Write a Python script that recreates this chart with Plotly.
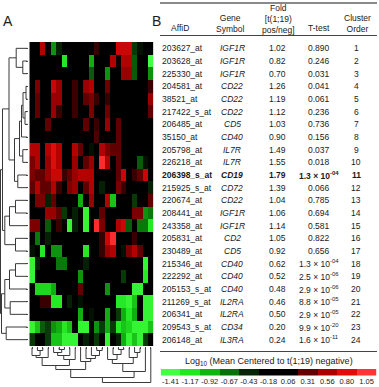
"""
    Heatmap with dendrograms (A) and the matching probe table (B).
"""
import plotly.graph_objects as go

W, H = 379, 387
FONT = "Liberation Sans, Arial, sans-serif"
INK = "#1a1a1a"

# ---- data -------------------------------------------------------------
affy_ids = ["203627_at", "203628_at", "225330_at", "204581_at", "38521_at",
            "217422_s_at", "206485_at", "35150_at", "205798_at", "226218_at",
            "206398_s_at", "215925_s_at", "220674_at", "208441_at", "243358_at",
            "205831_at", "230489_at", "215346_at", "222292_at", "205153_s_at",
            "211269_s_at", "206341_at", "209543_s_at", "206148_at"]
genes = ["IGF1R", "IGF1R", "IGF1R", "CD22", "CD22", "CD22", "CD5", "CD40",
         "IL7R", "IL7R", "CD19", "CD72", "CD22", "IGF1R", "IGF1R", "CD2",
         "CD5", "CD40", "CD40", "CD40", "IL2RA", "IL2RA", "CD34", "IL3RA"]
fold = [1.02, 0.82, 0.70, 1.26, 1.19, 1.12, 1.03, 0.90, 1.49, 1.55, 1.79, 1.39,
        1.04, 1.06, 1.14, 1.05, 0.92, 0.62, 0.52, 0.48, 0.46, 0.50, 0.20, 0.24]
ttest = ["0.890", "0.246", "0.031", "0.041", "0.061", "0.236", "0.736", "0.156",
         "0.037", "0.018", "1.3e-04", "0.066", "0.785", "0.694", "0.581", "0.822",
         "0.656", "1.3e-04", "2.5e-06", "2.9e-06", "8.8e-05", "2.9e-05",
         "9.9e-20", "1.6e-11"]
cluster_order = list(range(1, 25))
highlight_row = 10  # CD19

expr = [
    [0, 0, 0.6, 0, -0.8, -0.4, 0, 0, 0, 0, 0, 0, 0.2, 0, 0, 0, 0.7, 0.7, 0.7, -0.5, -0.3, 0, 0],
    [0, 0, 0, 0, 0, 0, -1.2, 0, 0, 0, 0, -0.9, 0, 0, 0, 0.6, 0.1, 0.6, 0.6, -0.6, 0, 0, -1.4],
    [0, 0, 0, 0, 0, 0, 0, 0, 0, 0, 0, -0.6, 0, 0, -0.8, 0, 0, 0.5, 0.5, -0.6, 0, 0, -0.8],
    [0, 0.4, 0, 0, 0.7, 0.5, 0, 0, 0.2, 0, 0.5, 0.6, 0, 0, 0.35, 0, 0, 0, 0, 0, 0, 0, 0.2],
    [0, 0.3, 0, 0, 0.5, 0.5, 0, 0, 0.2, 0, 0.3, 0.4, 0.2, 0, 0.2, 0, 0, 0, 0, 0, 0, 0, 0.5],
    [0, 0.3, 0, 0, 0.5, 0.2, 0, 0, 0.2, 0, 0, 0.4, 0, 0, 0.35, 0, 0, 0, 0, 0, 0, 0, 0.3],
    [0, 0, 0, 0.3, 0, 0, 0, 0, 0, 0, 0.3, 0, 0.2, 0, 0.5, 0, 0.3, 0, 0, 0, 0, 0, 0],
    [0, 0, 0, 0, 0, 0, 0, 0, 0, 0, 0, 0, 0.25, 0, 0, 0, 0.3, 0, 0, 0, 0, 0, 0],
    [0.6, 0.6, 0, 0.6, 0.8, 0.6, 0, 0, 0.6, 0.3, 0, -0.3, 0, 0.6, 0.4, 0.3, 0.3, 0, 0, 0, 0, 0, 0],
    [0.4, 0.6, 0, 0.5, 0.8, 0.6, 0, 0, 0.5, 0, 0.3, 0.5, 0, 1.0, 0.6, 0, 0.3, 0, 0, 0, -0.6, -0.3, 0],
    [0.4, 0.3, 0.3, 0.5, 0.7, 0.7, 0.2, 0.3, 0.5, 0.6, 0.6, 0.6, 0, 0, 0, 0, 0.3, 0.7, 0, 0.2, 0.3, 0.7, 0],
    [0.3, 0.6, 0.3, 0.3, 0.6, 0.2, 0, 0.4, 0.5, 0, 0.3, 0.6, 0, -0.4, -0.2, 0, 0.4, 0.2, 0, 0, 0, 0, -0.4],
    [0, 0.4, 0.4, -0.4, 0.3, 0, 0, 0, 0, -0.9, 0, 0.5, 0, 0, 0.6, -1.0, 0, 0, 0, -0.5, 0, 0, 0.3],
    [0, 0, 0, 0.5, 0.5, 0.3, -0.5, 0, -0.4, 0, -1.3, 0, 0, 0.3, 0, 0, 0, 0, 0, 0.4, 0.4, -0.8, -0.7],
    [0.4, 0.4, 0, -0.6, 0, 0.2, 0, -1.3, -0.4, 0, -1.3, 0, 1.0, 0.4, 0, 0, 0.6, 0.7, -0.6, 0, -0.7, -0.7, -1.2],
    [0, -0.7, 0, -0.4, 0, 0, 0, 0, 0, 0, 0, 0, 0, 0.2, 0.7, 1.0, 0, 0, 0, 0.2, 0, 0, 0],
    [-0.3, 0, -1.2, 0, -0.8, -0.8, 0, 0, 0, 0, -1.2, 0, 0, 0.2, 0.5, 0.6, 0, -0.3, 0.4, 0.6, 0.3, 0, 0],
    [-1.3, -0.4, 0, 0, 0, -0.7, -0.7, 0, 0, 0, -0.4, 0, 0, 0, 0, 0, 0, 0, 0, 0, 0, -1.3, 0],
    [-1.3, 0, 0, 0, 0, 0, 0, 0, 0, -0.8, 0, 0, 0, 0, 0, 0, 0, -0.5, 0, 0, 0, -1.2, 0],
    [0, -1.1, -1.1, -1.1, -0.9, 0, 0, 0, -0.2, 0.3, 0, 0, 0, 0, -0.8, 0, 0, 0, 0, -1.3, -1.3, 0, 0],
    [0, 0, 0.2, 0.2, -1.2, -1.2, 0, -0.4, 0, -0.3, 0, 0, 0, 0, 0, 0, -1.2, -1.2, -1.3, -1.0, 0, -1.3, -1.3],
    [0, 0, 0, 0, 0, 0, 0, 0, 0, -0.9, 0, -0.3, 0, 0, -0.9, 0, -0.5, -0.9, -1.2, -0.9, 0, -1.3, -1.3],
    [-1.3, -1.0, -0.6, -0.5, -0.8, -0.9, -1.2, -1.0, -0.2, -1.3, -1.3, 0, -0.8, -0.5, -0.9, -0.5, -1.2, -1.0, -1.1, -1.3, -1.3, -1.3, -1.0],
    [-0.5, 0, 0, -0.5, -1.0, -1.0, -1.3, -1.3, -1.3, 0, -0.4, -0.2, -0.5, 0, -1.3, 0, -0.4, -0.9, -1.3, -1.0, -1.3, -0.5, 0],
]

# colour key levels (Log10 mean centred)
key_levels = [-1.41, -1.17, -0.92, -0.67, -0.43, -0.18, 0.06, 0.31, 0.56, 0.80, 1.05]

# dendrograms: (child a, child b, height); leaves first, new nodes numbered after
row_merges = [
    (1, 2, 4.7), (0, 24, 11.3), (3, 4, 1.5), (5, 6, 2.5), (26, 27, 4.5),
    (28, 7, 6), (8, 9, 4.7), (29, 30, 8), (10, 11, 9.7), (31, 32, 13),
    (25, 33, 18.5), (12, 13, 12), (35, 14, 18), (15, 16, 12), (36, 37, 22.7),
    (34, 38, 25), (17, 18, 12), (40, 19, 18), (20, 21, 17.3), (41, 42, 22.7),
    (22, 23, 21.3), (43, 44, 26), (39, 45, 27),
]
col_merges = [
    (1, 2, 3), (0, 23, 8), (24, 3, 10), (5, 6, 2), (4, 26, 5), (27, 7, 8),
    (28, 8, 12), (25, 29, 18), (12, 13, 3), (31, 11, 8), (10, 32, 11),
    (9, 33, 14), (30, 34, 22), (16, 17, 2), (36, 15, 7), (14, 37, 12),
    (19, 20, 5), (18, 39, 10), (38, 40, 16), (41, 21, 24), (35, 42, 30),
    (43, 22, 35),
]

colorscale = [
    [0.000, "#44ff44"], [0.098, "#22e622"], [0.199, "#12b412"],
    [0.301, "#0a700a"], [0.398, "#062406"], [0.500, "#000000"],
    [0.598, "#000000"], [0.699, "#640000"], [0.801, "#aa0000"],
    [0.898, "#e00c0c"], [1.000, "#ff3535"],
]


def px(x):
    return x / W


def py(y):
    return 1 - y / H


def dendro(merges, n):
    pos = list(range(n))
    hgt = [0] * n
    p, h = [], []
    for a, b, m in merges:
        for c in (a, b):
            p += [pos[c], pos[c], None]
            h += [hgt[c], m, None]
        p += [pos[a], pos[b], None]
        h += [m, m, None]
        pos.append((pos[a] + pos[b]) / 2)
        hgt.append(m)
    return p, h


def fmt_p(s):
    if "e" in s:
        m, e = s.split("e")
        return m + " × 10<sup>" + e + "</sup>"
    return s


def label(fig, text, x, y, size=8.5, xanchor="center", yref="paper"):
    fig.add_annotation(text=text, x=px(x), y=y, xref="paper", yref=yref,
                       xanchor=xanchor, yanchor="middle", align="center",
                       showarrow=False, font=dict(size=size, color=INK))


fig = go.Figure()

fig.add_trace(go.Heatmap(
    z=expr, zmin=-1.41, zmax=1.05, colorscale=colorscale,
    showscale=False, xaxis="x", yaxis="y", hoverinfo="skip",
))

rp, rh = dendro(row_merges, len(affy_ids))
fig.add_trace(go.Scatter(x=rh, y=rp, mode="lines", xaxis="x2", yaxis="y2",
                         line=dict(color="#3a3a3a", width=1), hoverinfo="skip"))

cp, ch = dendro(col_merges, len(expr[0]))
fig.add_trace(go.Scatter(x=cp, y=ch, mode="lines", xaxis="x3", yaxis="y3",
                         line=dict(color="#3a3a3a", width=1), hoverinfo="skip"))

fig.add_trace(go.Heatmap(
    z=[key_levels], x=list(range(len(key_levels))), zmin=-1.41, zmax=1.05,
    colorscale=colorscale, showscale=False, xaxis="x4", yaxis="y4",
    hoverinfo="skip",
))

n_rows, n_cols = len(expr), len(expr[0])
hm_x = [px(29.3), px(153.5)]
hm_y = [py(346), py(42)]

hidden = dict(showgrid=False, zeroline=False, showticklabels=False, showline=False)
fig.update_layout(
    width=W, height=H,
    margin=dict(l=0, r=0, t=0, b=0),
    paper_bgcolor="white", plot_bgcolor="white",
    showlegend=False,
    font=dict(family=FONT, color=INK, size=9),
    xaxis=dict(domain=hm_x, range=[-0.5, n_cols - 0.5], ticks="outside",
               ticklen=2, tickcolor="#555", tickvals=list(range(n_cols)),
               showticklabels=False, showgrid=False, zeroline=False),
    yaxis=dict(domain=hm_y, range=[n_rows - 0.5, -0.5], ticks="outside",
               ticklen=2, tickcolor="#555", tickvals=list(range(n_rows)),
               showticklabels=False, showgrid=False, zeroline=False),
    xaxis2=dict(domain=[0, px(27.5)], range=[27.5, 0], anchor="y2", **hidden),
    yaxis2=dict(domain=hm_y, range=[n_rows - 0.5, -0.5], anchor="x2", **hidden),
    xaxis3=dict(domain=hm_x, range=[-0.5, n_cols - 0.5], anchor="y3", **hidden),
    yaxis3=dict(domain=[0, py(347.5)], range=[39.5, 0], anchor="x3", **hidden),
    xaxis4=dict(domain=[px(160.7), px(376.3)], range=[-0.5, len(key_levels) - 0.5],
                anchor="y4", tickvals=list(range(len(key_levels))),
                ticktext=["%.2f" % v for v in key_levels],
                tickfont=dict(size=7.5, color=INK), ticks="", ticklen=0,
                showgrid=False, zeroline=False, showline=False),
    yaxis4=dict(domain=[py(375.5), py(369)], anchor="x4", **hidden),
)

# panel letters
label(fig, "A", 8, py(21), size=14)
label(fig, "B", 156, py(21), size=14)

# table header
header = [
    ("AffiD", 180, 28),
    ("Gene<br>Symbol", 230, 23.5),
    ("Fold<br>[t(1;19)<br>pos/neg]", 278, 19),
    ("T-test", 318.5, 28),
    ("Cluster<br>Order", 357, 23.5),
]
for txt, hx, hy in header:
    label(fig, txt, hx, py(hy))

for y0, col, wd in [(3, "#8a8a8a", 1.8), (35.5, "#444", 1), (351.5, "#444", 1)]:
    fig.add_shape(type="line", xref="paper", yref="paper",
                  x0=px(160), x1=px(377), y0=py(y0), y1=py(y0),
                  line=dict(color=col, width=wd))

# table rows, aligned on the heatmap rows
for i in range(n_rows):
    cells = [
        (affy_ids[i], 160, "left"),
        ("<i>" + genes[i] + "</i>", 232, "center"),
        ("%.2f" % fold[i], 277, "center"),
        (fmt_p(ttest[i]), 319, "center"),
        (str(cluster_order[i]), 356, "center"),
    ]
    for txt, cx, anc in cells:
        if i == highlight_row:
            txt = "<b>" + txt + "</b>"
        label(fig, txt, cx, i, xanchor=anc, yref="y")

label(fig, "Log<sub>10</sub> (Mean Centered to t(1;19) negative)", 268.5, py(361), size=9)

# the page body has a default 8px margin; drop it so the figure sits at 0,0
fig.write_html("out.html", config={"displayModeBar": False},
               post_script="document.body.style.margin='0';")
